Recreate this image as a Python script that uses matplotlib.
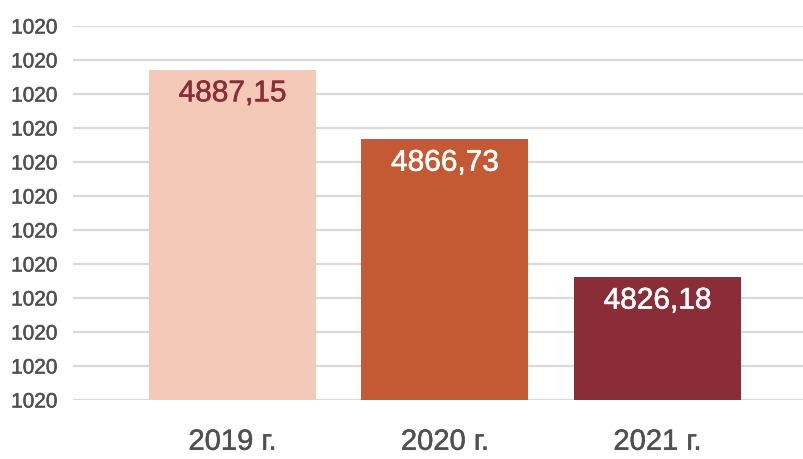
import matplotlib
matplotlib.use('Agg')
import matplotlib.pyplot as plt
import matplotlib.patheffects as pe
import numpy as np

plt.rcParams['font.family'] = ['Liberation Sans', 'DejaVu Sans']

# данные
years = ['2019 г.', '2020 г.', '2021 г.']
values = [4887.15, 4866.73, 4826.18]
value_labels = ['4887,15', '4866,73', '4826,18']
bar_colors = ['#F4C9B8', '#C35A33', '#8A2D38']
label_colors = ['#8A2D38', 'white', 'white']
y_ticks = [4790, 4800, 4810, 4820, 4830, 4840, 4850, 4860, 4870, 4880, 4890, 4900]
y_tick_labels = ['1020'] * len(y_ticks)

fig = plt.figure(figsize=(8.04, 4.59), dpi=100)
ax = fig.add_axes([73 / 804, 59 / 459, 1 - 73 / 804, (400 - 26) / 459])

x = np.arange(len(years))
ax.bar(x, [v - y_ticks[0] for v in values], bottom=y_ticks[0], width=0.786,
       color=bar_colors, zorder=3)

for xi, v, lab, c in zip(x, values, value_labels, label_colors):
    ax.annotate(lab, xy=(xi, v), xytext=(0, -17), textcoords='offset points',
                ha='center', va='center', fontsize=21.5, color=c, zorder=4,
                path_effects=[pe.withStroke(linewidth=0.4, foreground=c)])

ax.set_xlim(-0.75, 2.69)
ax.set_ylim(y_ticks[0], y_ticks[-1])
ax.set_yticks(y_ticks)
ax.set_yticklabels(y_tick_labels, fontsize=15, color='#505050')
ax.set_xticks(x)
ax.set_xticklabels(years, fontsize=21, color='#505050')
ax.tick_params(axis='y', length=0, pad=11)
ax.tick_params(axis='x', length=0, pad=20)

# чуть толще начертание, как в оригинале
for t in ax.get_xticklabels() + ax.get_yticklabels():
    t.set_path_effects([pe.withStroke(linewidth=0.35, foreground='#505050')])

ax.grid(axis='y', color='#D9D9D9', linewidth=1.6, zorder=0)
ax.set_axisbelow(True)
for s in ax.spines.values():
    s.set_visible(False)

fig.savefig('out.png', dpi=100)
